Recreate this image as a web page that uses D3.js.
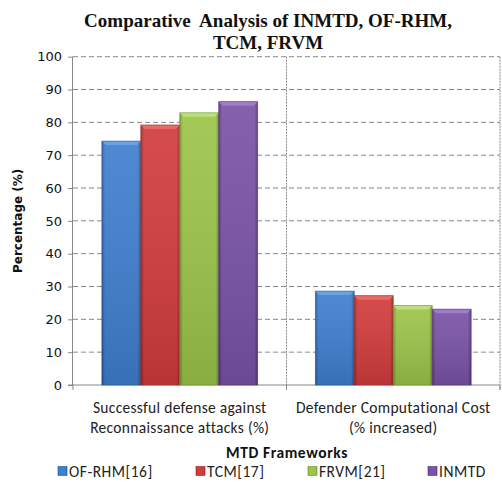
<!DOCTYPE html>
<html>
<head>
<meta charset="utf-8">
<script src="https://cdn.jsdelivr.net/npm/d3@7"></script>
<style>
  html, body { margin: 0; padding: 0; background: #fff; }
  svg { display: block; }
</style>
</head>
<body>
<svg id="chart" width="502" height="482"></svg>
<script>
// Chart data
const categories = [
  ["Successful defense against", "Reconnaissance attacks (%)"],
  ["Defender Computational Cost", "(% increased)"]
];
const seriesNames = ["OF-RHM[16]", "TCM[17]", "FRVM[21]", "INMTD"];
const seriesValues = [
  [74.3, 28.6],   // OF-RHM[16]
  [79.2, 27.2],   // TCM[17]
  [82.9, 24.2],   // FRVM[21]
  [86.3, 23.1]    // INMTD
];
const yTicks = [0, 10, 20, 30, 40, 50, 60, 70, 80, 90, 100];
const titleLines = ["Comparative  Analysis of INMTD, OF-RHM,", "TCM, FRVM"];

// Series colours: base, light, dark
const palette = [
  { base: "#3f7fcf", light: "#6aa2e6", dark: "#24589b" },
  { base: "#d23c3c", light: "#ea6a66", dark: "#982525" },
  { base: "#9cc44a", light: "#bde07a", dark: "#6f9428" },
  { base: "#7a53a6", light: "#a07ccb", dark: "#52327a" }
];

const svg = d3.select("#chart");
const m = { left: 73, right: 500, top: 56.7, bottom: 385 };

const x0 = d3.scaleBand()
  .domain(d3.range(categories.length))
  .range([m.left, m.right])
  .paddingInner(0)
  .paddingOuter(0);
const x1 = d3.scaleBand()
  .domain(d3.range(seriesNames.length))
  .range([0, x0.bandwidth()])
  .paddingOuter(0.74)
  .paddingInner(0);
const y = d3.scaleLinear().domain([0, 100]).range([m.bottom, m.top]);

// Gradients for the bevelled bars
const defs = svg.append("defs");
palette.forEach((c, i) => {
  const g = defs.append("linearGradient").attr("id", "grad" + i)
    .attr("x1", "0").attr("x2", "1").attr("y1", "0").attr("y2", "0");
  g.append("stop").attr("offset", "0").attr("stop-color", c.dark);
  g.append("stop").attr("offset", "0.08").attr("stop-color", c.base);
  g.append("stop").attr("offset", "0.5").attr("stop-color", c.base);
  g.append("stop").attr("offset", "0.92").attr("stop-color", c.base);
  g.append("stop").attr("offset", "1").attr("stop-color", c.dark);
  const v = defs.append("linearGradient").attr("id", "shade" + i)
    .attr("x1", "0").attr("x2", "0").attr("y1", "0").attr("y2", "1");
  v.append("stop").attr("offset", "0").attr("stop-color", "#fff").attr("stop-opacity", 0.08);
  v.append("stop").attr("offset", "1").attr("stop-color", "#000").attr("stop-opacity", 0.12);
});

// Horizontal dashed gridlines
svg.append("g")
  .selectAll("line")
  .data(yTicks.filter(d => d > 0))
  .join("line")
  .attr("x1", m.left).attr("x2", m.right)
  .attr("y1", d => y(d)).attr("y2", d => y(d))
  .attr("stroke", "#8a8a8a")
  .attr("stroke-width", 1)
  .attr("stroke-dasharray", "5,3");

// Vertical dotted separators between categories and at the right edge
const seps = [x0(1), m.right];
svg.append("g")
  .selectAll("line")
  .data(seps)
  .join("line")
  .attr("x1", d => d).attr("x2", d => d)
  .attr("y1", m.top).attr("y2", m.bottom + 5)
  .attr("stroke", "#8a8a8a")
  .attr("stroke-width", 1)
  .attr("stroke-dasharray", "2,1");

// Y axis
const yAxis = svg.append("g")
  .attr("transform", `translate(${m.left},0)`)
  .call(d3.axisLeft(y).tickValues(yTicks).tickSize(5).tickPadding(6));
yAxis.select(".domain").attr("stroke", "#888").attr("d", `M-0.5,${m.top}V${m.bottom}`);
yAxis.selectAll(".tick line").attr("stroke", "#888");
yAxis.selectAll("text")
  .attr("font-family", "'DejaVu Sans', Verdana, sans-serif")
  .attr("font-size", 13)
  .attr("fill", "#111");

// X axis baseline with category tick marks
svg.append("line")
  .attr("x1", m.left - 5).attr("x2", m.right)
  .attr("y1", m.bottom).attr("y2", m.bottom)
  .attr("stroke", "#888");
svg.append("g")
  .selectAll("line")
  .data([m.left, x0(1), m.right])
  .join("line")
  .attr("x1", d => d).attr("x2", d => d)
  .attr("y1", m.bottom).attr("y2", m.bottom + 5)
  .attr("stroke", "#888");

// Bars
const groups = svg.append("g")
  .selectAll("g")
  .data(categories.map((c, ci) => ci))
  .join("g")
  .attr("transform", ci => `translate(${x0(ci)},0)`);

groups.each(function (ci) {
  const g = d3.select(this);
  seriesNames.forEach((s, si) => {
    const v = seriesValues[si][ci];
    const bx = x1(si), bw = x1.bandwidth();
    const by = y(v), bh = y(0) - y(v);
    const c = palette[si];
    g.append("rect")
      .attr("x", bx).attr("y", by).attr("width", bw).attr("height", bh)
      .attr("fill", `url(#grad${si})`);
    g.append("rect")
      .attr("x", bx).attr("y", by).attr("width", bw).attr("height", bh)
      .attr("fill", `url(#shade${si})`);
    // bevelled top cap
    const cap = 4;
    g.append("path")
      .attr("d", `M${bx},${by} L${bx + bw},${by} L${bx + bw - cap},${by + cap} L${bx + cap},${by + cap} Z`)
      .attr("fill", c.light);
    g.append("rect")
      .attr("x", bx).attr("y", by).attr("width", bw).attr("height", bh)
      .attr("fill", "none").attr("stroke", c.dark).attr("stroke-width", 0.8).attr("stroke-opacity", 0.7);
  });
});

// Category labels
const catFont = "Carlito, 'Open Sans', 'Liberation Sans', sans-serif";
categories.forEach((lines, ci) => {
  const cx = x0(ci) + x0.bandwidth() / 2;
  lines.forEach((ln, li) => {
    svg.append("text")
      .attr("x", cx).attr("y", 412.5 + li * 20)
      .attr("text-anchor", "middle")
      .attr("font-family", catFont)
      .attr("font-size", 15.5)
      .attr("letter-spacing", 0.3)
      .attr("fill", "#222")
      .text(ln);
  });
});

// Title
titleLines.forEach((ln, i) => {
  svg.append("text")
    .attr("x", 268).attr("y", 27 + i * 22)
    .attr("text-anchor", "middle")
    .attr("font-family", "'Liberation Serif', 'Times New Roman', serif")
    .attr("font-weight", "bold")
    .attr("font-size", 19)
    .attr("style", "white-space: pre")
    .attr("fill", "#111")
    .text(ln);
});

// Y axis title
svg.append("text")
  .attr("transform", `translate(22,${(m.top + m.bottom) / 2}) rotate(-90)`)
  .attr("text-anchor", "middle")
  .attr("font-family", "'DejaVu Sans', Verdana, sans-serif")
  .attr("font-weight", "bold")
  .attr("font-size", 12)
  .attr("fill", "#111")
  .text("Percentage (%)");

// X axis title
svg.append("text")
  .attr("x", 287).attr("y", 458)
  .attr("text-anchor", "middle")
  .attr("font-family", catFont)
  .attr("font-weight", "bold")
  .attr("font-size", 15.5)
  .attr("letter-spacing", 0.6)
  .attr("fill", "#111")
  .text("MTD Frameworks");

// Legend
const legendX = [58, 196, 308, 428];
const legend = svg.append("g")
  .selectAll("g")
  .data(seriesNames)
  .join("g")
  .attr("transform", (d, i) => `translate(${legendX[i]},471)`);
legend.append("rect")
  .attr("x", 0).attr("y", -4.5).attr("width", 9).attr("height", 9)
  .attr("fill", (d, i) => `url(#grad${i})`)
  .attr("stroke", (d, i) => palette[i].dark).attr("stroke-width", 0.6);
legend.append("text")
  .attr("x", 11).attr("y", 5.5)
  .attr("font-family", catFont)
  .attr("font-size", 15.5)
  .attr("letter-spacing", 0.5)
  .attr("fill", "#222")
  .text(d => d);
</script>
</body>
</html>
